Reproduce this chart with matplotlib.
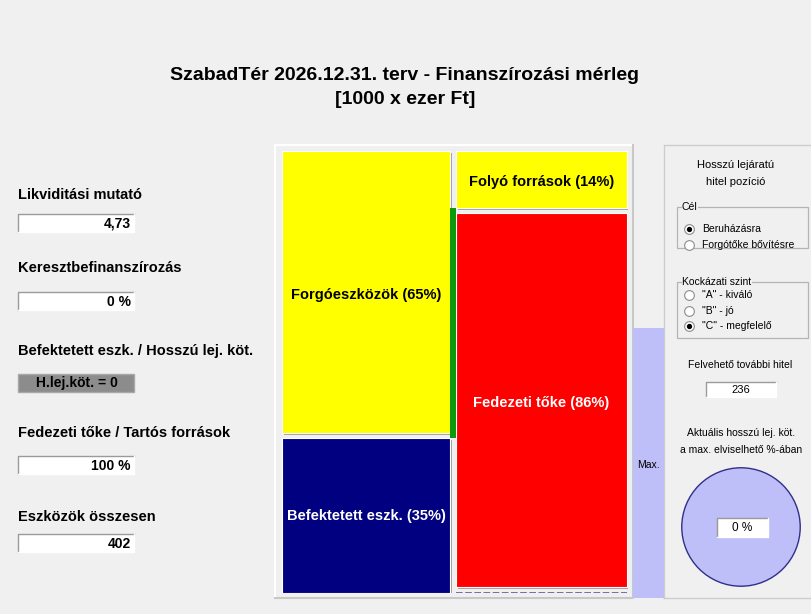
import numpy as np
import matplotlib
matplotlib.use('Agg')
import matplotlib.pyplot as plt
from matplotlib.patches import Rectangle, Circle
import matplotlib.patheffects as pe

plt.rcParams['font.family'] = ['Liberation Sans', 'DejaVu Sans']

# --- data ---
title_lines = ["SzabadTér 2026.12.31. terv - Finanszírozási mérleg", "[1000 x ezer Ft]"]

asset_labels = ["Befektetett eszk.", "Forgóeszközök"]
asset_pct = [35, 65]
source_labels = ["Fedezeti tőke", "Folyó források"]
source_pct = [86, 14]
long_debt_pct = 0
max_long_pct = 60

metric_names = ["Likviditási mutató", "Keresztbefinanszírozás",
                "Befektetett eszk. / Hosszú lej. köt.",
                "Fedezeti tőke / Tartós források", "Eszközök összesen"]
metric_values = ["4,73", "0 %", "H.lej.köt. = 0", "100 %", "402"]

goal_options = ["Beruházásra", "Forgótőke bővítésre"]
goal_selected = 0
risk_options = ['"A" - kiváló', '"B" - jó', '"C" - megfelelő']
risk_selected = 2
extra_credit = 236
used_of_max_pct = 0

BG = '#F0F0F0'
W, H = 812, 614

fig = plt.figure(figsize=(W / 100, H / 100), dpi=100, facecolor=BG)

# background layer in pixel coords (y down)
bg = fig.add_axes([0, 0, 1, 1], zorder=0)
bg.set_xlim(0, W)
bg.set_ylim(H, 0)
bg.axis('off')

bg.text(405, 75, title_lines[0], ha='center', va='center', fontsize=14, fontweight='bold')
bg.text(405, 100, title_lines[1], ha='center', va='center', fontsize=14, fontweight='bold')


def sunken_box(a, x, y, w, h, fc='white'):
    a.add_patch(Rectangle((x, y), w, h, fc=fc, ec='none'))
    a.plot([x, x, x + w], [y + h, y, y], color='#9A9A9A', lw=1)
    a.plot([x, x + w, x + w], [y + h, y + h, y], color='white', lw=1)


# --- left indicators ---
label_y = [195, 268, 351, 433, 517]
box_top = [214, 292, 374, 456, 534]
for i, (name, val) in enumerate(zip(metric_names, metric_values)):
    bg.text(18, label_y[i], name, ha='left', va='center', fontsize=10.5, fontweight='bold')
    if i == 2:
        bg.add_patch(Rectangle((18, box_top[i]), 116, 18, fc='#8C8C8C', ec='#A8A8A8', lw=1))
        bg.text(77, box_top[i] + 9.5, val, ha='center', va='center', fontsize=10, fontweight='bold')
    else:
        sunken_box(bg, 18, box_top[i], 116, 18)
        bg.text(131, box_top[i] + 9.5, val, ha='right', va='center', fontsize=10, fontweight='bold')

# chart frame
bg.add_patch(Rectangle((275, 145), 358, 453, fc=BG, ec='none'))
bg.plot([275, 275, 633], [598, 145, 145], color='white', lw=1.5)
bg.plot([275, 633, 633], [598, 598, 145], color='#C8C8C8', lw=1.5)

# --- right panel ---
bg.add_patch(Rectangle((664, 145), 160, 453, fc=BG, ec='none'))
bg.plot([664, 664, 812], [598, 145, 145], color='#CDCDCD', lw=1)
bg.plot([664, 812], [598, 598], color='#CDCDCD', lw=1)
bg.text(736, 165, "Hosszú lejáratú", ha='center', va='center', fontsize=8)
bg.text(736, 182, "hitel pozíció", ha='center', va='center', fontsize=8)


def group_box(a, x, y, w, h, label, options, selected, row_y):
    a.add_patch(Rectangle((x, y), w, h, fc='none', ec='#B4B4B4', lw=0.9))
    a.text(x + 5, y, label, ha='left', va='center', fontsize=7.5,
           bbox=dict(fc=BG, ec='none', pad=0.3))
    for k, opt in enumerate(options):
        a.plot(x + 12, row_y[k], 'o', ms=7, mfc='white', mec='#8C8C8C', mew=0.8)
        if k == selected:
            a.plot(x + 12, row_y[k], 'o', ms=2.8, color='black')
        a.text(x + 25, row_y[k], opt, ha='left', va='center', fontsize=7.5)


group_box(bg, 677, 207, 131, 41, "Cél", goal_options, goal_selected, [229, 245])
group_box(bg, 677, 282, 131, 56, "Kockázati szint", risk_options, risk_selected, [295, 311, 326])

bg.text(740, 365, "Felvehető további hitel", ha='center', va='center', fontsize=7.5)
sunken_box(bg, 706, 382, 70, 15)
bg.text(741, 390, str(extra_credit), ha='center', va='center', fontsize=8)
bg.text(741, 433, "Aktuális hosszú lej. köt.", ha='center', va='center', fontsize=7.5)
bg.text(741, 450, "a max. elviselhető %-ában", ha='center', va='center', fontsize=7.5)

# --- balance sheet bars ---
ax = fig.add_axes([281 / W, (H - 593) / H, 347 / W, 442 / H], zorder=2)
ax.set_facecolor('none')
ax.set_xlim(-0.484, 1.493)
ax.set_ylim(0, 100)
ax.axis('off')

shadow = [pe.SimplePatchShadow(offset=(1.5, -1.5), shadow_rgbFace='#A0A0A0', alpha=1.0), pe.Normal()]
gap = 1.2

asset_colors = ['#000080', '#FFFF00']
asset_text = ['white', 'black']
bottom = 0
for k, (lab, v, c, tc) in enumerate(zip(asset_labels, asset_pct, asset_colors, asset_text)):
    lo = bottom + (gap if k > 0 else 0)
    b = ax.bar(0, bottom + v - lo, bottom=lo, width=0.958, color=c, edgecolor='white', lw=0.8)
    for p in b:
        p.set_path_effects(shadow)
    ax.text(0, bottom + v / 2, f"{lab} ({v}%)", ha='center', va='center',
            fontsize=10.5, fontweight='bold', color=tc)
    bottom += v

stub = 1.3  # visual slot for the zero long-term debt row
source_colors = ['#FF0000', '#FFFF00']
source_text = ['white', 'black']
bottom = 0
for k, (lab, v, c, tc) in enumerate(zip(source_labels, source_pct, source_colors, source_text)):
    lo = bottom + (gap if k > 0 else stub)
    b = ax.bar(1.0, bottom + v - lo, bottom=lo, width=0.975, color=c, edgecolor='white', lw=0.8)
    for p in b:
        p.set_path_effects(shadow)
    ax.text(1.0, bottom + v / 2, f"{lab} ({v}%)", ha='center', va='center',
            fontsize=10.5, fontweight='bold', color=tc)
    bottom += v

# long-term debt (0) shown as a dashed strip
ax.hlines(long_debt_pct + 0.1, 1.0 - 0.975 / 2, 1.0 + 0.975 / 2, colors='#5A5A9A',
          linestyles=(0, (4, 1.5)), lw=1.2)

# current assets covered by long-term sources
ax.bar(0.496, asset_pct[1] - source_pct[1] + gap, bottom=asset_pct[0], width=0.034,
       color='#0C9A0C')

# max long-term credit column
ax.bar(1.61, max_long_pct + 1.2, bottom=-1.2, width=0.177, color='#BEBEF8', clip_on=False)
ax.text(1.61, 29, "Max.", ha='center', va='center', fontsize=7.5)

# --- pie: used share of max long-term debt ---
pax = fig.add_axes([680 / W, (H - 588) / H, 122 / W, 122 / H], zorder=3)
vals = [used_of_max_pct, 100 - used_of_max_pct]
cols = ['#000080', '#BEBEF8']
nz = [(v, c) for v, c in zip(vals, cols) if v > 0]
pax.pie([v for v, _ in nz], colors=[c for _, c in nz], startangle=90,
        counterclock=False, wedgeprops=dict(lw=0))
pax.add_patch(Circle((0, 0), 1, fc='none', ec='#30308A', lw=1))
pax.set_xlim(-1.03, 1.03)
pax.set_ylim(-1.03, 1.03)
pax.set_aspect('equal')
pax.axis('off')

fg = fig.add_axes([0, 0, 1, 1], zorder=5)
fg.set_xlim(0, W)
fg.set_ylim(H, 0)
fg.axis('off')
sunken_box(fg, 717, 518, 51, 19)
fg.text(742, 528, f"{used_of_max_pct} %", ha='center', va='center', fontsize=8.5)

fig.savefig('out.png', dpi=100, facecolor=BG)
